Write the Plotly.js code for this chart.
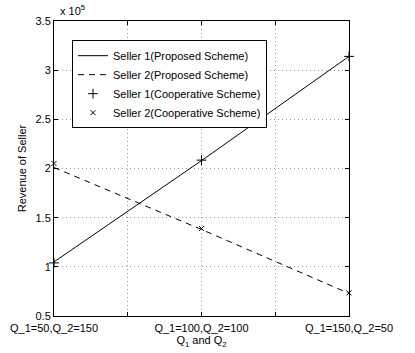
<!DOCTYPE html>
<html>
<head>
<meta charset="utf-8">
<script src="https://cdn.plot.ly/plotly-3.0.1.min.js"></script>
<style>
  html, body { margin: 0; padding: 0; background: #fff; }
  #target { width: 415px; height: 353px; }
</style>
</head>
<body>
<div id="target"></div>
<script>
// revenue values are in units of 10^5, as on the chart's axis
var xPos = [1, 2, 3];
var xTickVals = [1, 2, 3];
var xTickText = ['Q_1=50,Q_2=150', 'Q_1=100,Q_2=100', 'Q_1=150,Q_2=50'];
var seller1Proposed = [1.05, 2.08, 3.14];
var seller2Proposed = [2.01, 1.38, 0.73];
var seller1Coop = [1.04, 2.085, 3.14];
var seller2Coop = [2.05, 1.39, 0.735];
var yTickVals = [0.5, 1, 1.5, 2, 2.5, 3, 3.5];
var yTickText = ['0.5', '1', '1.5', '2', '2.5', '3', '3.5'];

var font = 'Liberation Sans, Arial, Helvetica, sans-serif';
var gridDots = '1px,3px';

var traces = [
  {
    x: xPos, y: seller1Proposed,
    name: 'Seller 1(Proposed Scheme)',
    type: 'scatter', mode: 'lines',
    line: {color: '#000', width: 1}
  },
  {
    x: xPos, y: seller2Proposed,
    name: 'Seller 2(Proposed Scheme)',
    type: 'scatter', mode: 'lines',
    line: {color: '#000', width: 1, dash: '6px,5px'}
  },
  {
    x: xPos, y: seller1Coop,
    name: 'Seller 1(Cooperative Scheme)',
    type: 'scatter', mode: 'markers',
    cliponaxis: false,
    marker: {symbol: 'cross-thin-open', size: 7, color: '#000', line: {color: '#000', width: 1}}
  },
  {
    x: xPos, y: seller2Coop,
    name: 'Seller 2(Cooperative Scheme)',
    type: 'scatter', mode: 'markers',
    cliponaxis: false,
    marker: {symbol: 'x-thin-open', size: 5, color: '#000', line: {color: '#000', width: 1}}
  }
];

var layout = {
  width: 415,
  height: 353,
  margin: {l: 54, r: 66, t: 21, b: 37},
  paper_bgcolor: '#fff',
  plot_bgcolor: '#fff',
  font: {family: font, size: 11, color: '#000'},
  showlegend: true,
  legend: {
    x: 0.061, xanchor: 'left',
    y: 0.935, yanchor: 'top',
    bgcolor: '#fff',
    bordercolor: '#000',
    borderwidth: 1,
    font: {family: font, size: 11, color: '#000'}
  },
  xaxis: {
    range: [1, 3],
    tickmode: 'array',
    tickvals: xTickVals,
    ticktext: xTickText,
    ticks: 'inside',
    ticklen: 4,
    tickcolor: '#000',
    ticklabelstandoff: 2,
    showline: true,
    linecolor: '#000',
    linewidth: 1,
    mirror: 'ticks',
    showgrid: true,
    gridcolor: '#999',
    griddash: gridDots,
    minor: {
      tick0: 1, dtick: 0.5,
      ticks: 'inside', ticklen: 4, tickcolor: '#000',
      showgrid: true, gridcolor: '#999', griddash: gridDots
    },
    zeroline: false,
    fixedrange: true,
    title: {text: 'Q<sub>1</sub> and Q<sub>2</sub>', standoff: 1, font: {family: font, size: 11}}
  },
  yaxis: {
    range: [0.5, 3.5],
    tickmode: 'array',
    tickvals: yTickVals,
    ticktext: yTickText,
    ticks: 'inside',
    ticklen: 4,
    tickcolor: '#000',
    showline: true,
    linecolor: '#000',
    linewidth: 1,
    mirror: 'ticks',
    showgrid: true,
    gridcolor: '#999',
    griddash: gridDots,
    zeroline: false,
    fixedrange: true,
    title: {text: 'Revenue of Seller', standoff: 6, font: {family: font, size: 11}}
  },
  annotations: [{
    xref: 'paper', yref: 'paper',
    x: 0.012, y: 1.008,
    xanchor: 'left', yanchor: 'bottom',
    showarrow: false,
    text: 'x 10<sup>5</sup>',
    font: {family: font, size: 11, color: '#000'}
  }]
};

Plotly.newPlot('target', traces, layout, {displayModeBar: false, staticPlot: true});
</script>
</body>
</html>
